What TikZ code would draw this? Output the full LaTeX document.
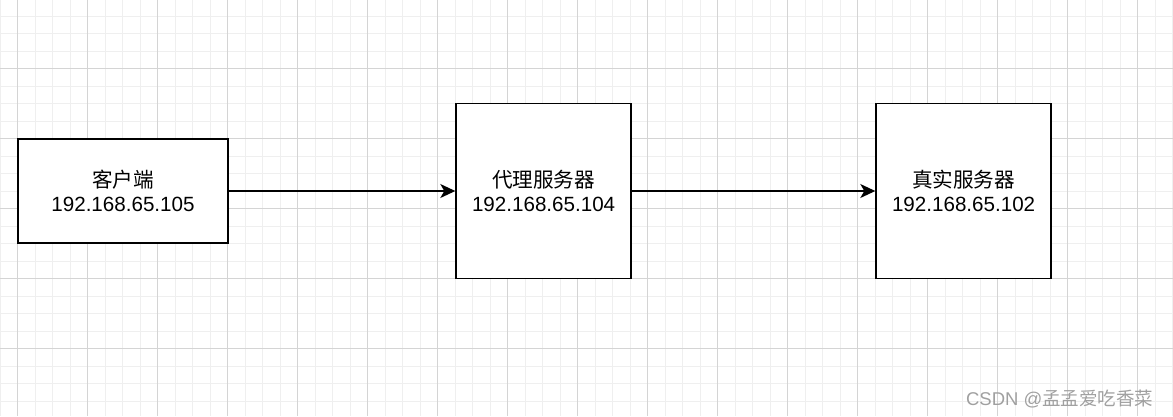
\documentclass[tikz,border=0pt]{standalone}
\usepackage{fontspec}
\setmainfont{Liberation Sans}
\newfontfamily\cjk{Noto Sans CJK SC}
\usepackage{tikz}
\usetikzlibrary{arrows.meta, positioning}
\definecolor{minorgrid}{HTML}{EFEFEF}
\definecolor{majorgrid}{HTML}{D4D4D4}
\definecolor{markgray}{HTML}{A0A0A0}
\tikzset{
  box/.style={rectangle, draw=black, line width=1.6pt, fill=white, align=center,
    inner sep=0pt, font=\fontsize{20.6}{24}\selectfont},
  link/.style={-{Stealth[length=15pt, width=14pt, inset=4pt]}, line width=1.4pt},
  minorline/.style={draw=minorgrid, line width=0.9pt},
  majorline/.style={draw=majorgrid, line width=0.9pt}
}

\begin{document}
\begin{tikzpicture}[x=1pt, y=-1pt]
        \useasboundingbox (0,0) rectangle (1173,416);
        \fill[white] (0,0) rectangle (1173,416);
        % grid
        \foreach \x in {0,17.5,...,1173} \draw[minorline] (\x,0) -- (\x,416);
        \foreach \y in {-1.5,16,...,416} \draw[minorline] (0,\y) -- (1173,\y);
        \foreach \x in {17.5,87.5,...,1173} \draw[majorline] (\x,0) -- (\x,416);
        \foreach \y in {-1.5,68.5,...,416} \draw[majorline] (0,\y) -- (1173,\y);

        \node[box, minimum width=210pt, minimum height=104pt] (client) at (123,191)
              {{\cjk 客户端}\\192.168.65.105};
        \node[box, minimum width=175pt, minimum height=175pt] (proxy) [right=226.5pt of client]
              {{\cjk 代理服务器}\\192.168.65.104};
        \node[box, minimum width=175pt, minimum height=175pt] (real) [right=243.4pt of proxy]
              {{\cjk 真实服务器}\\192.168.65.102};

        \draw[link] (client) -- (proxy);
        \draw[link] (proxy) -- (real);

        \node[anchor=base east, text=markgray, font=\fontsize{18.5}{20}\selectfont] (mark) at (1157,405)
              {CSDN @{\cjk 孟孟爱吃香菜}};
\end{tikzpicture}
\end{document}
